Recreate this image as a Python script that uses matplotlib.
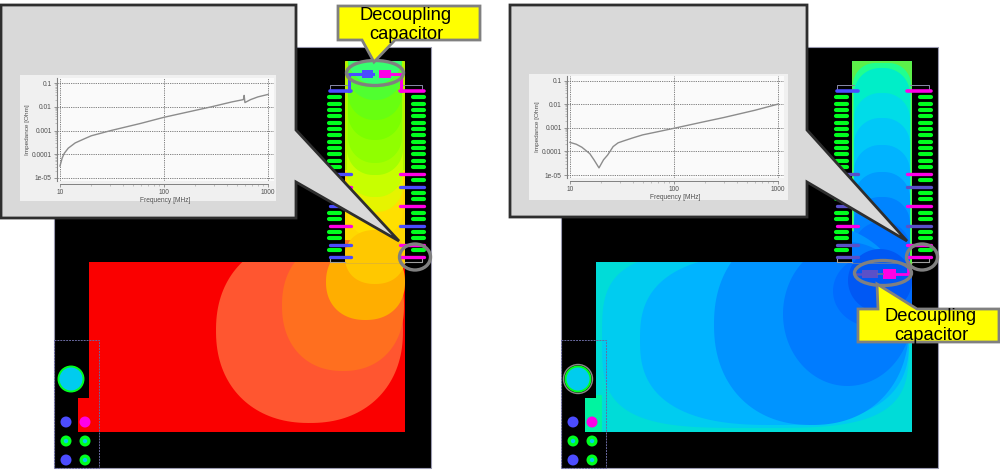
import numpy as np
import matplotlib
matplotlib.use("Agg")
import matplotlib.pyplot as plt
from matplotlib.patches import Rectangle, Ellipse, Circle, Polygon
from matplotlib.ticker import FixedLocator, FixedFormatter, NullFormatter

plt.rcParams["font.family"] = ["Liberation Sans", "DejaVu Sans"]

W, H = 1000, 474

# impedance curves
freq_a = [10, 10.5, 11, 12, 14, 17, 20, 31, 60, 100, 287, 450, 580, 590, 600, 680, 800, 1000]
imp_a = [3.2e-5, 7e-5, 1.1e-4, 1.8e-4, 3e-4, 4.4e-4, 6e-4, 1e-3, 2e-3, 3.6e-3, 1e-2,
         1.6e-2, 2.0e-2, 3.0e-2, 1.5e-2, 2.0e-2, 2.6e-2, 3.3e-2]
freq_b = [10, 11.5, 13, 15.5, 17, 19, 21, 23, 26, 29, 33, 40, 50, 70, 100, 195, 300, 600, 1000]
imp_b = [2.4e-4, 2e-4, 1.5e-4, 8e-5, 4.4e-5, 2e-5, 4.4e-5, 7e-5, 1.6e-4, 2.3e-4, 2.8e-4,
         3.7e-4, 5e-4, 6.8e-4, 9.5e-4, 1.8e-3, 2.7e-3, 5.5e-3, 1e-2]

x_ticks = [10, 100, 1000]
x_ticklabels = ["10", "100", "1000"]
y_ticks = [1e-5, 1e-4, 1e-3, 1e-2, 1e-1]
y_ticklabels = ["1e-05", "0.0001", "0.001", "0.01", "0.1"]

# contour levels, outermost first: colour and where the dome ends in the strip
strip_a = [("#FFD800", 262), ("#FFE000", 237), ("#E6F400", 212), ("#C8FF00", 197),
           ("#A4FF00", 175), ("#90FF00", 163), ("#7CFF00", 140), ("#68FF10", 120),
           ("#50FF30", 100), ("#38FF70", 84)]
# colour, box on the plane, squareness
blobs_a = [("#FF5630", 216, 238, 403, 423, 2.2), ("#FF6F1F", 282, 240, 404, 371, 2.2),
           ("#FFAE00", 326, 244, 405, 320, 2.2), ("#FFC800", 345, 230, 405, 284, 2.2)]

domes_b = [("#00EEC8", 68), ("#00DCE8", 93), ("#00C8F8", 118), ("#00B4FF", 145),
           ("#009CFF", 172), ("#0084FF", 197), ("#0072FF", 222)]
blobs_b = [("#00CCF0", 602, 250, 909, 428, 3.5), ("#00B4FF", 640, 254, 909, 425, 2.6),
           ("#0094FF", 714, 224, 909, 425, 2.2), ("#007CFF", 783, 242, 912, 386, 2.0),
           ("#006CFF", 833, 255, 915, 327, 2.0)]

pad_rows = [97.4, 103.7, 110, 116.4, 122.7, 129, 135.4, 141.7, 148, 154.4, 160.7, 167,
            180.4, 193, 199.4, 212.7, 219, 231.7, 238, 250.4]

BLUE = "#4C4CFF"
DIM = "#5A50C8"
MAGENTA = "#FF00E6"
GREEN = "#00FF1E"
GRAY = "#808080"

rows_a_left = [(174, BLUE), (187, MAGENTA), (206, BLUE), (225.7, MAGENTA), (244.7, BLUE), (256.7, BLUE)]
rows_a_right = [(174, MAGENTA), (187, BLUE), (206, MAGENTA), (225.7, BLUE), (244.7, MAGENTA), (256.7, MAGENTA)]
rows_b_left = [(174, DIM), (187, DIM), (206, DIM), (225.7, MAGENTA), (244.7, DIM), (256.7, DIM)]
rows_b_right = [(174, MAGENTA), (187, DIM), (206, MAGENTA), (225.7, DIM), (244.7, MAGENTA), (256.7, MAGENTA)]

fig = plt.figure(figsize=(W / 100, H / 100), dpi=100, facecolor="white")
ax = fig.add_axes([0, 0, 1, 1])
ax.set_xlim(0, W)
ax.set_ylim(H, 0)
ax.axis("off")


def rounded(x0, y0, x1, y1, r):
    # rounded box as a polygon, r in px
    t = np.linspace(0, np.pi / 2, 16)
    pts = []
    for cx, cy, a in [(x1 - r, y0 + r, -np.pi / 2), (x1 - r, y1 - r, 0),
                      (x0 + r, y1 - r, np.pi / 2), (x0 + r, y0 + r, np.pi)]:
        pts += list(zip(cx + r * np.cos(t + a), cy + r * np.sin(t + a)))
    return np.array(pts)


def blob(x0, y0, x1, y1, n=2.6):
    # superellipse inside the given box
    t = np.linspace(0, 2 * np.pi, 160)
    c, s = np.cos(t), np.sin(t)
    xs = (x0 + x1) / 2 + (x1 - x0) / 2 * np.sign(c) * np.abs(c) ** (2 / n)
    ys = (y0 + y1) / 2 + (y1 - y0) / 2 * np.sign(s) * np.abs(s) ** (2 / n)
    return np.column_stack([xs, ys])


def fill_clipped(pts, color, clip, z=2):
    p = Polygon(pts, closed=True, fc=color, ec="none", zorder=z)
    ax.add_patch(p)
    p.set_clip_path(clip)


def draw_board(dx, plane_color):
    ax.add_patch(Rectangle((54 + dx, 47), 377, 421, fc="black", ec="#9A9AB0", lw=0.8, zorder=1))
    outline = [(345 + dx, 61), (405 + dx, 61), (405 + dx, 432), (78 + dx, 432), (78 + dx, 398),
               (89 + dx, 398), (89 + dx, 262), (345 + dx, 262)]
    plane = Polygon(outline, closed=True, fc=plane_color, ec="none", zorder=2)
    ax.add_patch(plane)
    return plane


def draw_pins(dx, rows_l, rows_r, top_l, top_r):
    for y in pad_rows:
        ax.plot([329 + dx, 340 + dx], [y, y], color=GREEN, lw=3.0, solid_capstyle="round", zorder=4)
        ax.plot([413 + dx, 424 + dx], [y, y], color=GREEN, lw=3.0, solid_capstyle="round", zorder=4)
    for y, c in rows_l:
        ax.plot([330 + dx, 351 + dx], [y, y], color=c, lw=2.4, solid_capstyle="round", zorder=5)
    for y, c in rows_r:
        ax.plot([400 + dx, 424 + dx], [y, y], color=c, lw=2.4, solid_capstyle="round", zorder=5)
    ax.plot([330 + dx, 351 + dx], [91, 91], color=top_l, lw=2.6, solid_capstyle="round", zorder=5)
    ax.plot([400 + dx, 424 + dx], [91, 91], color=top_r, lw=2.6, solid_capstyle="round", zorder=5)
    for xs in ([330, 330, 347], [422, 422, 403]):
        ax.plot([x + dx for x in xs], [91, 85, 85], color="#8A8AA8", lw=0.7, zorder=3)
    for xs in ([330, 330, 345], [422, 422, 405]):
        ax.plot([x + dx for x in xs], [257, 262, 262], color="#A0A0A0", lw=0.8, zorder=3)
    ax.plot([345 + dx, 405 + dx], [263, 263], color="#C0A060", lw=0.6, alpha=0.5, zorder=3)


def draw_corner(dx, ring):
    ax.add_patch(Rectangle((54 + dx, 340), 45, 128, fc="none", ec="#6A6AA0", lw=0.7, ls=(0, (2, 1)), zorder=4))
    ax.add_patch(Circle((71 + dx, 379), 12.5, fc="#00CCEE", ec=GREEN, lw=1.4, zorder=5))
    if ring:
        ax.add_patch(Circle((71 + dx, 379), 14.5, fc="none", ec="#8A8A8A", lw=1.0, zorder=5))
    for cx, cy, c in [(66, 422, BLUE), (85, 422, MAGENTA), (66, 460, BLUE)]:
        ax.add_patch(Circle((cx + dx, cy), 5.5, fc=c, ec="none", zorder=5))
    for cx, cy in [(66, 441), (85, 441), (85, 460)]:
        ax.add_patch(Circle((cx + dx, cy), 5.5, fc=GREEN, ec="none", zorder=5))
        ax.add_patch(Circle((cx + dx, cy), 2.2, fc="#00CCEE", ec="none", zorder=6))


def draw_gray_callout(x0, x1, y0, y1, tail_a, tail_b, tip):
    pts = [(x0, y0), (x1, y0), (x1, tail_a), tip, (x1, tail_b), (x1, y1), (x0, y1)]
    ax.add_patch(Polygon(pts, closed=True, fc="#D9D9D9", ec="#2E2E2E", lw=2.0, joinstyle="miter", zorder=8))


def draw_yellow(box, tail, text_xy):
    x0, y0, x1, y1 = box
    a, b, tip = tail
    if tip[1] > y1:
        pts = [(x0, y0), (x1, y0), (x1, y1), (b, y1), tip, (a, y1), (x0, y1)]
    else:
        pts = [(x0, y0), (a, y0), tip, (b, y0), (x1, y0), (x1, y1), (x0, y1)]
    ax.add_patch(Polygon(pts, closed=True, fc="#FFFF00", ec=GRAY, lw=2.0, joinstyle="miter", zorder=11))
    ax.text(text_xy[0], text_xy[1], "Decoupling\ncapacitor", ha="center", va="center",
            fontsize=13.2, linespacing=1.12, color="black", zorder=12)


def draw_graph(px, py, panel, freq, imp):
    # px: pixel of 10 and 1000 MHz, py: pixel of 0.1 and 1e-5
    x_dec = (px[1] - px[0]) / 2
    y_dec = (py[1] - py[0]) / 4
    ax.add_patch(Rectangle((panel[0], panel[1]), panel[2] - panel[0], panel[3] - panel[1],
                           fc="#F0F0F0", ec="none", zorder=9))
    left, right = px[0] - 3, px[1] + 6
    top, bottom = py[0] - 5, py[1] + 3
    g = fig.add_axes([left / W, 1 - bottom / H, (right - left) / W, (bottom - top) / H], zorder=10)
    g.set_facecolor("#FAFAFA")
    g.set_xscale("log")
    g.set_yscale("log")
    g.set_xlim(10 ** (1 - 3 / x_dec), 10 ** (3 + 6 / x_dec))
    g.set_ylim(10 ** (-5 - 3 / y_dec), 10 ** (-1 + 5 / y_dec))
    g.plot(freq, imp, color="#8C8C8C", lw=1.0)
    g.xaxis.set_major_locator(FixedLocator(x_ticks))
    g.xaxis.set_major_formatter(FixedFormatter(x_ticklabels))
    g.xaxis.set_minor_locator(FixedLocator([20, 30, 40, 50, 60, 70, 80, 90, 200, 300, 400, 500, 600, 700, 800, 900]))
    g.xaxis.set_minor_formatter(NullFormatter())
    g.yaxis.set_major_locator(FixedLocator(y_ticks))
    g.yaxis.set_major_formatter(FixedFormatter(y_ticklabels))
    g.yaxis.set_minor_locator(FixedLocator([m * 10.0 ** e for e in range(-5, -1) for m in range(2, 10)]))
    g.yaxis.set_minor_formatter(NullFormatter())
    g.grid(True, which="major", color="#707070", lw=0.6, ls=(0, (1.5, 1.2)))
    g.set_axisbelow(True)
    g.tick_params(which="major", labelsize=4.8, labelcolor="#505050", color="#707070",
                  length=2.5, width=0.5, pad=1.2)
    g.tick_params(which="minor", color="#999999", length=1.2, width=0.4)
    for s in ["top", "right"]:
        g.spines[s].set_visible(False)
    g.spines["left"].set_color("#808080")
    g.spines["left"].set_linewidth(0.8)
    g.spines["bottom"].set_color("#808080")
    g.spines["bottom"].set_linewidth(0.7)
    g.spines["bottom"].set_position(("outward", 2))
    g.spines["bottom"].set_bounds(10, 1000)
    g.set_xlabel("Frequency [MHz]", fontsize=4.8, color="#505050", labelpad=0.5)
    g.set_ylabel("Impedance [Ohm]", fontsize=4.6, color="#505050", labelpad=1)


# left board, capacitor on top of the strip
plane_a = draw_board(0, "#FA0000")
fill_clipped(rounded(345, 61, 405, 264, 1), "#B8F000", plane_a)
fill_clipped(rounded(345, 170, 405, 264, 1), "#FFD800", plane_a)
for i, (c, y) in enumerate(strip_a):
    inset = 2 if i < 5 else 3
    fill_clipped(rounded(345 + inset, 20, 405 - inset, y, 26), c, plane_a)
for c, x0, y0, x1, y1, n in blobs_a:
    fill_clipped(blob(x0, y0, x1, y1, n), c, plane_a)
draw_pins(0, rows_a_left, rows_a_right, BLUE, MAGENTA)
draw_corner(0, False)
ax.add_patch(Rectangle((362, 70), 11, 8, fc=BLUE, ec="none", zorder=5))
ax.add_patch(Rectangle((379, 70), 12, 8, fc=MAGENTA, ec="none", zorder=5))
ax.plot([373, 349, 349], [74, 74, 91], color=BLUE, lw=2.2, zorder=5)
ax.plot([391, 401, 401], [74, 74, 91], color=MAGENTA, lw=2.2, zorder=5)
ax.add_patch(Ellipse((375, 73), 57, 25, fc="none", ec=GRAY, lw=2.4, zorder=7))
ax.add_patch(Ellipse((415, 257), 31, 26, fc="none", ec=GRAY, lw=2.4, zorder=7))
draw_gray_callout(1, 296, 5, 218, 130, 182, (399, 241))
draw_yellow((338, 6, 480, 40), (362, 395, (374, 62)), (406, 25))
draw_graph((60, 268), (83, 178), (20, 75, 276, 201), freq_a, imp_a)

# right board, capacitor at the bottom of the strip
plane_b = draw_board(507, "#00DCD8")
fill_clipped(rounded(852, 61, 912, 270, 1), "#5CF04A", plane_b)
fill_clipped(rounded(853, 63, 911, 262, 22), "#20FF90", plane_b)
fill_clipped(rounded(585, 395, 602, 432, 1), "#00F4A0", plane_b)
for c, y in domes_b:
    fill_clipped(rounded(854, y, 910, 300, 26), c, plane_b)
for c, x0, y0, x1, y1, n in blobs_b:
    fill_clipped(blob(x0, y0, x1, y1, n), c, plane_b)
fill_clipped(blob(848, 249, 912, 312, 2.0), "#0058F4", plane_b)
draw_pins(507, rows_b_left, rows_b_right, BLUE, MAGENTA)
draw_corner(507, True)
ax.add_patch(Rectangle((862, 270), 16, 8, fc=DIM, ec="none", zorder=5))
ax.add_patch(Rectangle((883, 269), 13, 10, fc=MAGENTA, ec="none", zorder=5))
ax.plot([855, 862], [274, 274], color=DIM, lw=1.8, zorder=5)
ax.plot([878, 883], [274, 274], color="#707090", lw=1.2, zorder=5)
ax.plot([896, 908, 908], [274, 274, 262], color=MAGENTA, lw=2.0, zorder=5)
ax.add_patch(Ellipse((883, 273), 57, 25, fc="none", ec=GRAY, lw=2.4, zorder=7))
ax.add_patch(Ellipse((922, 257), 31, 26, fc="none", ec=GRAY, lw=2.4, zorder=7))
draw_gray_callout(510, 807, 5, 217, 130, 182, (907, 241))
draw_yellow((858, 309, 999, 342), (878, 917, (877, 284)), (931, 326))
draw_graph((570, 778), (80.5, 175), (529, 74, 788, 200), freq_b, imp_b)

fig.savefig("out.png", dpi=100, facecolor="white")
